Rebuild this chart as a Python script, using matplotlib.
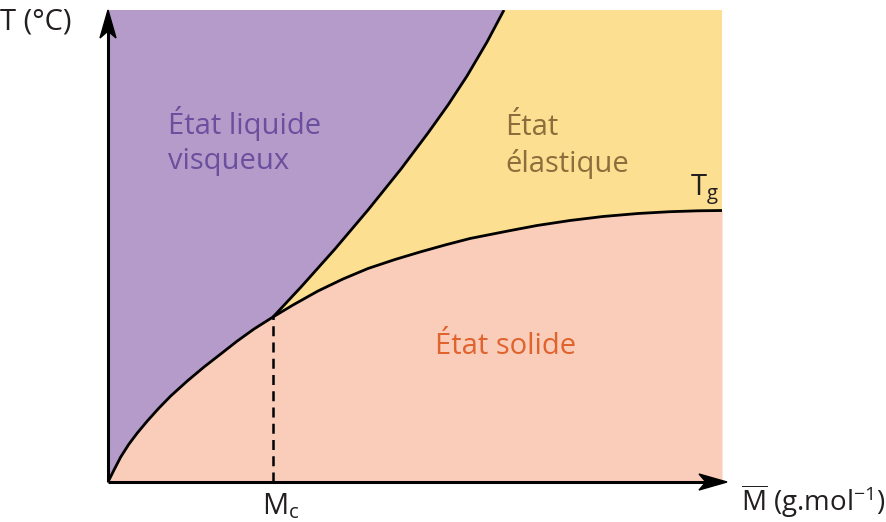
import matplotlib.pyplot as plt
from matplotlib.patches import Polygon

plt.rcParams['font.family'] = ['Open Sans', 'DejaVu Sans']
plt.rcParams['mathtext.fontset'] = 'custom'
plt.rcParams['mathtext.rm'] = 'Open Sans'
plt.rcParams['mathtext.it'] = 'Open Sans'

# courbe Tg (M, T)
tg_m = [0, 6, 12.7, 21, 29.3, 39.3, 51, 62.7, 79.3, 96, 112.7, 129.3, 146, 165,
        185, 210, 235, 260, 287, 312, 337, 362, 400, 429, 462, 495, 530, 562, 590, 614]
tg_t = [0, 12, 25, 38, 49, 61, 74, 86, 101, 115, 128, 141, 153, 165,
        177, 191, 203, 213.5, 222.5, 230, 237, 243.5, 251, 256.5, 261.5, 265.5, 268.5,
        270.3, 271.2, 271.5]

# courbe d'ecoulement, depuis Mc vers le haut
fl_m = [165, 193.3, 226.7, 260, 293, 320, 340, 359, 379, 396]
fl_t = [165, 195.3, 232.7, 272, 313, 349, 377, 406, 440, 472]

mc = 165
m_max, t_max = 614, 472

c_liq = '#b59bc9'
c_ela = '#fddf91'
c_sol = '#facdba'
c_txt = '#231f20'
fs = 21

fig = plt.figure(figsize=(8.87, 5.22), dpi=100)
ax = fig.add_axes([108 / 887, 40 / 522, 614 / 887, 472 / 522])
ax.set_xlim(0, m_max)
ax.set_ylim(0, t_max)
ax.set_axis_off()

# zones
i0 = tg_m.index(mc)
ax.fill([0, 0] + fl_m[::-1] + tg_m[:i0][::-1],
        [0, t_max] + fl_t[::-1] + tg_t[:i0][::-1], color=c_liq, lw=0)
ax.fill_between(tg_m, tg_t, 0, color=c_sol, lw=0)
ax.fill(fl_m + [m_max] + tg_m[i0:][::-1], fl_t + [t_max] + tg_t[i0:][::-1], color=c_ela, lw=0)

# courbes
ax.plot(tg_m, tg_t, color='black', lw=2.0, solid_capstyle='butt', solid_joinstyle='round')
ax.plot(fl_m, fl_t, color='black', lw=2.0, solid_capstyle='butt', solid_joinstyle='round')
ax.plot([mc, mc], [0, mc], color='black', lw=1.8, ls=(0, (4, 2.5)))

# axes avec fleches
ax.plot([0, 0], [0, t_max - 15], color='black', lw=2.2, clip_on=False, solid_capstyle='butt')
ax.plot([0, m_max], [0, 0], color='black', lw=2.2, clip_on=False, solid_capstyle='butt')
ax.add_patch(Polygon([[0, t_max], [-8, t_max - 28], [0, t_max - 21], [8, t_max - 28]],
                     closed=True, color='black', clip_on=False))
ax.add_patch(Polygon([[m_max + 5, 0], [m_max - 23, 8], [m_max - 16, 0], [m_max - 23, -8]],
                     closed=True, color='black', clip_on=False))

# textes
ax.text(60, 341, 'État liquide\nvisqueux', color='#6b4f9e', fontsize=fs,
        ha='left', va='center', linespacing=1.3)
ax.text(397, 336, 'État\nélastique', color='#8c6d3c', fontsize=fs,
        ha='left', va='center', linespacing=1.3)
ax.text(398, 136, 'État solide', color='#e0632e', fontsize=fs,
        ha='center', va='center')
ax.text(611, 292, r'T$_{\mathrm{g}}$', color=c_txt, fontsize=fs, ha='right', va='center')
ax.text(mc + 8, -24, r'M$_{\mathrm{c}}$', color=c_txt, fontsize=fs, ha='center', va='center',
        clip_on=False)
ax.text(-108, 460, 'T (°C)', color=c_txt, fontsize=fs, ha='left', va='center', clip_on=False)
ax.text(633, -19, r'$\overline{\mathrm{M}}$ (g.mol$^{\mathrm{-1}}$)', color=c_txt, fontsize=fs - 1,
        ha='left', va='center', clip_on=False)

fig.savefig('out.png', dpi=100)
